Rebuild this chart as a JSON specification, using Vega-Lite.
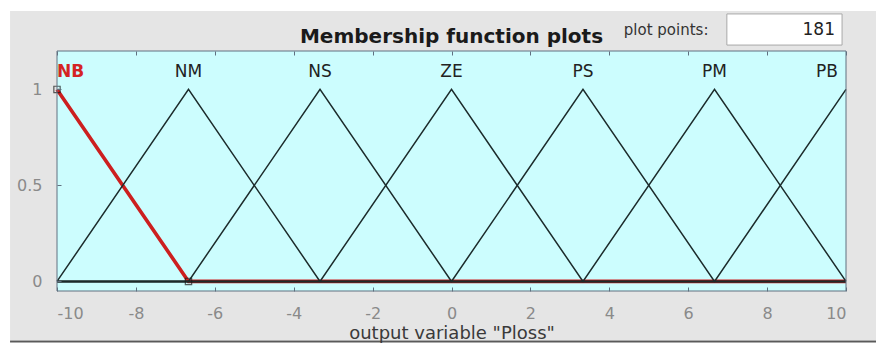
{
  "$schema": "https://vega.github.io/schema/vega-lite/v6.json",
  "width": 789,
  "height": 240,
  "autosize": {"type": "none"},
  "padding": {"left": 57, "top": 51, "right": 30, "bottom": 52},
  "background": "#ffffff",
  "config": {
    "view": {"stroke": null},
    "axis": {"grid": false}
  },
  "datasets": {
    "mf": [
      {"mf": "NB", "x": -10, "y": 1},
      {"mf": "NB", "x": -6.667, "y": 0},
      {"mf": "NB", "x": 10, "y": 0},
      {"mf": "NM", "x": -10, "y": 0},
      {"mf": "NM", "x": -6.667, "y": 1},
      {"mf": "NM", "x": -3.333, "y": 0},
      {"mf": "NM", "x": 10, "y": 0},
      {"mf": "NS", "x": -10, "y": 0},
      {"mf": "NS", "x": -6.667, "y": 0},
      {"mf": "NS", "x": -3.333, "y": 1},
      {"mf": "NS", "x": 0, "y": 0},
      {"mf": "NS", "x": 10, "y": 0},
      {"mf": "ZE", "x": -10, "y": 0},
      {"mf": "ZE", "x": -3.333, "y": 0},
      {"mf": "ZE", "x": 0, "y": 1},
      {"mf": "ZE", "x": 3.333, "y": 0},
      {"mf": "ZE", "x": 10, "y": 0},
      {"mf": "PS", "x": -10, "y": 0},
      {"mf": "PS", "x": 0, "y": 0},
      {"mf": "PS", "x": 3.333, "y": 1},
      {"mf": "PS", "x": 6.667, "y": 0},
      {"mf": "PS", "x": 10, "y": 0},
      {"mf": "PM", "x": -10, "y": 0},
      {"mf": "PM", "x": 3.333, "y": 0},
      {"mf": "PM", "x": 6.667, "y": 1},
      {"mf": "PM", "x": 10, "y": 0},
      {"mf": "PB", "x": -10, "y": 0},
      {"mf": "PB", "x": 6.667, "y": 0},
      {"mf": "PB", "x": 10, "y": 1}
    ],
    "labels": [
      {"mf": "NB", "peak": -10},
      {"mf": "NM", "peak": -6.667},
      {"mf": "NS", "peak": -3.333},
      {"mf": "ZE", "peak": 0},
      {"mf": "PS", "peak": 3.333},
      {"mf": "PM", "peak": 6.667},
      {"mf": "PB", "peak": 10}
    ],
    "annot": [
      {"k": "title", "t": "Membership function plots"},
      {"k": "pp", "t": "plot points:"},
      {"k": "val", "t": "181"}
    ]
  },
  "resolve": {"axis": {"x": "independent"}},
  "layer": [
    {
      "data": {"values": [{}]},
      "mark": {"type": "rect", "fill": "#e5e5e5", "stroke": null, "clip": false},
      "encoding": {
        "x": {"datum": -11.19, "type": "quantitative", "scale": {"domain": [-10, 10], "nice": false, "zero": false}, "axis": null},
        "x2": {"datum": 10.77},
        "y": {"datum": 1.408, "type": "quantitative", "scale": {"domain": [-0.05, 1.2], "nice": false, "zero": false}},
        "y2": {"datum": -0.305}
      }
    },
    {
      "data": {"values": [{}]},
      "mark": {"type": "rule", "stroke": "#5a5a5a", "strokeWidth": 2, "clip": false},
      "encoding": {
        "x": {"datum": -11.19, "type": "quantitative", "scale": {"domain": [-10, 10], "nice": false, "zero": false}, "axis": null},
        "x2": {"datum": 10.77},
        "y": {"datum": -0.313, "type": "quantitative", "scale": {"domain": [-0.05, 1.2], "nice": false, "zero": false}}
      }
    },
    {
      "data": {"values": [{}]},
      "mark": {"type": "rect", "fill": "#ccfdfe", "stroke": null},
      "encoding": {
        "x": {"datum": -10, "type": "quantitative", "scale": {"domain": [-10, 10], "nice": false, "zero": false}, "axis": null},
        "x2": {"datum": 10},
        "y": {"datum": -0.05, "type": "quantitative", "scale": {"domain": [-0.05, 1.2], "nice": false, "zero": false}},
        "y2": {"datum": 1.2}
      }
    },
    {
      "data": {"name": "mf"},
      "transform": [{"filter": "datum.mf === 'NB'"}],
      "mark": {"type": "line", "stroke": "#cc1f1f", "strokeWidth": 3.6},
      "encoding": {
        "x": {
          "field": "x", "type": "quantitative",
          "scale": {"domain": [-10, 10], "nice": false, "zero": false},
          "axis": {
            "orient": "bottom",
            "zindex": 2,
            "values": [-10, -8, -6, -4, -2, 0, 2, 4, 6, 8, 10],
            "labelExpr": "'' + datum.value",
            "domain": false,
            "tickSize": -4,
            "tickColor": "#607080",
            "labelFont": "DejaVu Sans",
            "labelFontSize": 16,
            "labelColor": "#8a8a8a",
            "labelPadding": 18,
            "title": "output variable \"Ploss\"",
            "titleFont": "DejaVu Sans",
            "titleFontSize": 18,
            "titleFontWeight": "normal",
            "titleColor": "#3a3a3a",
            "titleBaseline": "alphabetic",
            "titleY": 47
          }
        },
        "y": {
          "field": "y", "type": "quantitative",
          "scale": {"domain": [-0.05, 1.2], "nice": false, "zero": false},
          "axis": {
            "zindex": 2,
            "values": [0, 0.5, 1],
            "labelExpr": "'' + datum.value",
            "domain": false,
            "tickSize": -4,
            "tickColor": "#607080",
            "labelFont": "DejaVu Sans",
            "labelFontSize": 16,
            "labelColor": "#8a8a8a",
            "labelPadding": 19,
            "title": null
          }
        }
      }
    },
    {
      "data": {"name": "mf"},
      "transform": [{"filter": "datum.mf !== 'NB'"}],
      "mark": {"type": "line", "stroke": "#1c2b2b", "strokeWidth": 1.5},
      "encoding": {
        "x": {
          "field": "x", "type": "quantitative",
          "scale": {"domain": [-10, 10], "nice": false, "zero": false},
          "axis": {
            "orient": "top",
            "zindex": 2,
            "values": [-10, -8, -6, -4, -2, 0, 2, 4, 6, 8, 10],
            "domain": false,
            "labels": false,
            "tickSize": -4,
            "tickColor": "#607080",
            "title": null
          }
        },
        "y": {"field": "y", "type": "quantitative", "scale": {"domain": [-0.05, 1.2], "nice": false, "zero": false}},
        "detail": {"field": "mf"}
      }
    },
    {
      "data": {"name": "mf"},
      "transform": [{"filter": "datum.mf === 'NB' && datum.x < 0"}],
      "mark": {"type": "point", "shape": "square", "size": 40, "filled": false, "stroke": "#1a1a1a", "strokeWidth": 1.2, "clip": false},
      "encoding": {
        "x": {"field": "x", "type": "quantitative", "scale": {"domain": [-10, 10], "nice": false, "zero": false}, "axis": null},
        "y": {"field": "y", "type": "quantitative", "scale": {"domain": [-0.05, 1.2], "nice": false, "zero": false}}
      }
    },
    {
      "data": {"values": [{}]},
      "mark": {"type": "rect", "fill": null, "stroke": "#607080", "strokeWidth": 1},
      "encoding": {
        "x": {"datum": -10, "type": "quantitative", "scale": {"domain": [-10, 10], "nice": false, "zero": false}, "axis": null},
        "x2": {"datum": 10},
        "y": {"datum": -0.05, "type": "quantitative", "scale": {"domain": [-0.05, 1.2], "nice": false, "zero": false}},
        "y2": {"datum": 1.2}
      }
    },
    {
      "data": {"name": "labels"},
      "transform": [{"filter": "datum.mf !== 'NB' && datum.mf !== 'PB'"}],
      "mark": {"type": "text", "font": "DejaVu Sans", "fontSize": 17, "color": "#222222", "align": "center", "baseline": "middle"},
      "encoding": {
        "x": {"field": "peak", "type": "quantitative", "scale": {"domain": [-10, 10], "nice": false, "zero": false}, "axis": null},
        "y": {"datum": 1.09, "type": "quantitative", "scale": {"domain": [-0.05, 1.2], "nice": false, "zero": false}},
        "text": {"field": "mf"}
      }
    },
    {
      "data": {"name": "labels"},
      "transform": [{"filter": "datum.mf === 'NB'"}],
      "mark": {"type": "text", "font": "DejaVu Sans", "fontSize": 17, "fontWeight": "bold", "color": "#d42424", "align": "left", "baseline": "middle"},
      "encoding": {
        "x": {"field": "peak", "type": "quantitative", "scale": {"domain": [-10, 10], "nice": false, "zero": false}, "axis": null},
        "y": {"datum": 1.09, "type": "quantitative", "scale": {"domain": [-0.05, 1.2], "nice": false, "zero": false}},
        "text": {"field": "mf"}
      }
    },
    {
      "data": {"name": "labels"},
      "transform": [{"filter": "datum.mf === 'PB'"}],
      "mark": {"type": "text", "font": "DejaVu Sans", "fontSize": 17, "color": "#222222", "align": "right", "baseline": "middle", "dx": -8},
      "encoding": {
        "x": {"field": "peak", "type": "quantitative", "scale": {"domain": [-10, 10], "nice": false, "zero": false}, "axis": null},
        "y": {"datum": 1.09, "type": "quantitative", "scale": {"domain": [-0.05, 1.2], "nice": false, "zero": false}},
        "text": {"field": "mf"}
      }
    },
    {
      "data": {"values": [{}]},
      "mark": {"type": "rect", "fill": "#ffffff", "stroke": "#a8a8a8", "strokeWidth": 1, "clip": false},
      "encoding": {
        "x": {"datum": 6.98, "type": "quantitative", "scale": {"domain": [-10, 10], "nice": false, "zero": false}, "axis": null},
        "x2": {"datum": 9.9},
        "y": {"datum": 1.393, "type": "quantitative", "scale": {"domain": [-0.05, 1.2], "nice": false, "zero": false}},
        "y2": {"datum": 1.231}
      }
    },
    {
      "data": {"name": "annot"},
      "transform": [{"filter": "datum.k === 'title'"}],
      "mark": {"type": "text", "font": "DejaVu Sans", "fontSize": 20, "fontWeight": "bold", "color": "#1a1a1a", "align": "center", "baseline": "alphabetic", "clip": false},
      "encoding": {
        "x": {"datum": 0, "type": "quantitative", "scale": {"domain": [-10, 10], "nice": false, "zero": false}, "axis": null},
        "y": {"datum": 1.2417, "type": "quantitative", "scale": {"domain": [-0.05, 1.2], "nice": false, "zero": false}},
        "text": {"field": "t"}
      }
    },
    {
      "data": {"name": "annot"},
      "transform": [{"filter": "datum.k === 'pp'"}],
      "mark": {"type": "text", "font": "DejaVu Sans", "fontSize": 15, "color": "#333333", "align": "center", "baseline": "middle", "clip": false},
      "encoding": {
        "x": {"datum": 5.44, "type": "quantitative", "scale": {"domain": [-10, 10], "nice": false, "zero": false}, "axis": null},
        "y": {"datum": 1.31, "type": "quantitative", "scale": {"domain": [-0.05, 1.2], "nice": false, "zero": false}},
        "text": {"field": "t"}
      }
    },
    {
      "data": {"name": "annot"},
      "transform": [{"filter": "datum.k === 'val'"}],
      "mark": {"type": "text", "font": "DejaVu Sans", "fontSize": 17, "color": "#222222", "align": "right", "baseline": "middle", "clip": false},
      "encoding": {
        "x": {"datum": 9.72, "type": "quantitative", "scale": {"domain": [-10, 10], "nice": false, "zero": false}, "axis": null},
        "y": {"datum": 1.31, "type": "quantitative", "scale": {"domain": [-0.05, 1.2], "nice": false, "zero": false}},
        "text": {"field": "t"}
      }
    }
  ]
}
